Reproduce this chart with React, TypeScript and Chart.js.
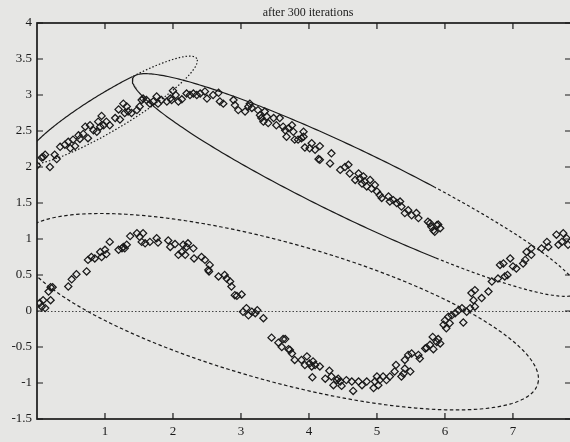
import { useEffect, useRef } from "react";
import { Chart, registerables } from "chart.js";

Chart.register(...registerables);

const TITLE = "after 300 iterations";
const X_MIN = 0;
const X_MAX = 7.854; // 2.5 * pi
const Y_MIN = -1.5;
const Y_MAX = 4;
const xTickValues = [1, 2, 3, 4, 5, 6, 7];
const Y_STEP = 0.5;

const upperPoints: [number, number][] = [
  [0.0, 2.02], [0.19, 2.0], [0.09, 2.14], [0.12, 2.17], [0.07, 2.13], [0.26, 2.17], [0.29, 2.11],
  [0.34, 2.28], [0.41, 2.31], [0.46, 2.35], [0.49, 2.26], [0.53, 2.38], [0.56, 2.29], [0.61, 2.44],
  [0.63, 2.39], [0.68, 2.46], [0.71, 2.56], [0.75, 2.4], [0.78, 2.58], [0.83, 2.51], [0.88, 2.49],
  [0.9, 2.63], [0.93, 2.56], [0.95, 2.71], [0.98, 2.58], [1.02, 2.63], [1.07, 2.58], [1.15, 2.68],
  [1.2, 2.8], [1.22, 2.66], [1.27, 2.88], [1.29, 2.75], [1.32, 2.84], [1.34, 2.77], [1.39, 2.75],
  [1.47, 2.79], [1.51, 2.84], [1.54, 2.93], [1.56, 2.95], [1.61, 2.93], [1.66, 2.88], [1.71, 2.91],
  [1.76, 2.98], [1.78, 2.88], [1.83, 2.93], [1.91, 2.91], [1.96, 2.95], [2.0, 3.06], [2.04, 3.0],
  [1.98, 2.93], [2.08, 2.91], [2.13, 2.94], [2.2, 3.02], [2.25, 3.0], [2.3, 3.02], [2.35, 3.0],
  [2.4, 3.02], [2.47, 3.05], [2.5, 2.95], [2.59, 3.0], [2.67, 3.03], [2.69, 2.91], [2.74, 2.88],
  [2.89, 2.93], [2.91, 2.86], [2.96, 2.79], [3.06, 2.77], [3.11, 2.84], [3.13, 2.88], [3.16, 2.82],
  [3.25, 2.79], [3.28, 2.72], [3.3, 2.68], [3.35, 2.77], [3.38, 2.7], [3.33, 2.63], [3.4, 2.61],
  [3.48, 2.68], [3.52, 2.58], [3.57, 2.68], [3.62, 2.56], [3.65, 2.51], [3.7, 2.54], [3.75, 2.58],
  [3.77, 2.49], [3.67, 2.42], [3.79, 2.38], [3.84, 2.38], [3.92, 2.49], [3.92, 2.42], [3.89, 2.4],
  [3.94, 2.27], [4.01, 2.26], [4.04, 2.33], [4.09, 2.24], [4.16, 2.29], [4.14, 2.11], [4.16, 2.1],
  [4.31, 2.05], [4.33, 2.19], [4.46, 1.96], [4.53, 2.0], [4.58, 2.03], [4.6, 1.91], [4.68, 1.82],
  [4.73, 1.91], [4.75, 1.84], [4.78, 1.77], [4.8, 1.87], [4.82, 1.8], [4.85, 1.73], [4.9, 1.82],
  [4.92, 1.7], [4.97, 1.75], [5.0, 1.66], [5.04, 1.61], [5.07, 1.57], [5.17, 1.59], [5.19, 1.52],
  [5.24, 1.54], [5.29, 1.5], [5.34, 1.52], [5.36, 1.45], [5.41, 1.36], [5.46, 1.4], [5.51, 1.33],
  [5.58, 1.36], [5.61, 1.29], [5.75, 1.24], [5.78, 1.22], [5.8, 1.17], [5.83, 1.12], [5.85, 1.1],
  [5.88, 1.19], [5.93, 1.15], [5.9, 1.2],
];

const lowerPoints: [number, number][] = [
  [0.04, 0.11], [0.09, 0.15], [0.12, 0.04], [0.07, 0.06], [0.17, 0.27], [0.2, 0.33], [0.23, 0.33],
  [0.2, 0.15], [0.46, 0.34], [0.51, 0.44], [0.58, 0.51], [0.73, 0.55], [0.75, 0.71], [0.8, 0.75],
  [0.85, 0.73], [0.93, 0.82], [0.95, 0.75], [1.0, 0.85], [1.02, 0.79], [1.07, 0.96], [1.2, 0.85],
  [1.25, 0.87], [1.27, 0.89], [1.32, 0.92], [1.29, 0.87], [1.37, 1.04], [1.47, 1.08], [1.51, 1.03],
  [1.56, 1.08], [1.54, 0.96], [1.59, 0.94], [1.66, 0.96], [1.76, 1.01], [1.78, 0.95], [1.93, 0.98],
  [1.96, 0.89], [2.03, 0.93], [2.08, 0.78], [2.13, 0.82], [2.15, 0.92], [2.18, 0.78], [2.2, 0.89],
  [2.22, 0.94], [2.3, 0.87], [2.31, 0.73], [2.42, 0.75], [2.47, 0.71], [2.54, 0.64], [2.53, 0.55],
  [2.52, 0.57], [2.67, 0.48], [2.76, 0.5], [2.79, 0.45], [2.84, 0.41], [2.86, 0.34], [2.91, 0.22],
  [2.94, 0.21], [3.01, 0.23], [3.03, -0.01], [3.08, 0.04], [3.11, -0.06], [3.16, -0.01], [3.21, -0.03],
  [3.24, 0.01], [3.33, -0.1], [3.45, -0.37], [3.55, -0.44], [3.6, -0.5], [3.62, -0.39], [3.65, -0.39],
  [3.7, -0.53], [3.72, -0.54], [3.75, -0.59], [3.79, -0.68], [3.89, -0.68], [3.94, -0.75], [3.97, -0.63],
  [4.01, -0.73], [4.04, -0.77], [4.06, -0.7], [4.09, -0.75], [4.16, -0.77], [4.05, -0.92], [4.24, -0.94],
  [4.3, -0.83], [4.33, -0.91], [4.36, -1.03], [4.41, -0.96], [4.43, -0.94], [4.46, -0.98], [4.48, -1.04],
  [4.55, -0.96], [4.63, -0.98], [4.65, -1.11], [4.73, -0.98], [4.78, -1.03], [4.85, -0.98], [4.95, -1.07],
  [4.97, -0.98], [5.0, -0.91], [5.02, -1.03], [5.04, -0.96], [5.09, -0.91], [5.14, -0.96], [5.19, -0.91],
  [5.26, -0.84], [5.28, -0.75], [5.36, -0.91], [5.39, -0.87], [5.41, -0.8], [5.41, -0.68], [5.49, -0.84],
  [5.46, -0.61], [5.51, -0.59], [5.61, -0.61], [5.63, -0.66], [5.71, -0.52], [5.73, -0.51], [5.78, -0.47],
  [5.82, -0.36], [5.83, -0.53], [5.88, -0.43], [5.9, -0.39], [5.93, -0.45], [5.98, -0.19], [6.0, -0.13],
  [6.02, -0.24], [6.05, -0.08], [6.07, -0.17], [6.1, -0.06], [6.15, -0.03], [6.2, 0.01], [6.25, 0.04],
  [6.27, -0.16], [6.32, -0.01], [6.37, 0.04], [6.39, 0.25], [6.44, 0.29], [6.42, 0.15], [6.44, 0.06],
  [6.54, 0.18], [6.64, 0.27], [6.69, 0.41], [6.78, 0.45], [6.81, 0.64], [6.86, 0.66], [6.88, 0.48],
  [6.92, 0.5], [6.96, 0.73], [7.0, 0.62], [7.05, 0.59], [7.15, 0.66], [7.18, 0.71], [7.2, 0.82],
  [7.27, 0.87], [7.27, 0.78], [7.42, 0.87], [7.5, 0.96], [7.52, 0.89], [7.64, 1.06], [7.67, 0.92],
  [7.72, 0.96], [7.74, 1.08], [7.79, 1.01], [7.81, 0.92],
];

// Ellipses (Gaussian contours): centre, semi-axes (x units), rotation in screen degrees
const ellipseCenterX = [1.09, 4.68, 3.55];
const ellipseCenterY = [2.79, 1.75, -0.01];
const ellipseSemiMajor = [1.47, 3.63, 3.96];
const ellipseSemiMinor = [0.28, 0.5, 1.02];
const ellipseAngleDeg = [31, -25.7, -15.5];

const INK = "#1a1a1a";
const PAPER = "#e6e6e4";
const SERIF = "'Liberation Serif', 'DejaVu Serif', serif";
const ASPECT = 68 / 72; // screen px per x-unit / px per y-unit
const N_SEG = 360;

function ellipsePath(i: number) {
  const pts: { x: number; y: number }[] = [];
  const th = (ellipseAngleDeg[i] * Math.PI) / 180;
  const a = ellipseSemiMajor[i];
  const b = ellipseSemiMinor[i];
  for (let k = 0; k <= N_SEG; k++) {
    const t = (2 * Math.PI * k) / N_SEG;
    const u = a * Math.cos(t);
    const v = b * Math.sin(t);
    pts.push({
      x: ellipseCenterX[i] + u * Math.cos(th) - v * Math.sin(th),
      y: ellipseCenterY[i] + (u * Math.sin(th) + v * Math.cos(th)) * ASPECT,
    });
  }
  return pts;
}

const framePlugin = {
  id: "gnuplotFrame",
  beforeDraw(chart: any) {
    const ctx = chart.ctx;
    ctx.save();
    ctx.fillStyle = PAPER;
    ctx.fillRect(0, 0, chart.width, chart.height);
    ctx.restore();
  },
  beforeDatasetsDraw(chart: any) {
    const { ctx, chartArea } = chart;
    const ys = chart.scales.y;
    const y0 = Math.round(ys.getPixelForValue(0)) + 0.5;
    ctx.save();
    ctx.strokeStyle = "#444";
    ctx.lineWidth = 1;
    ctx.setLineDash([1.5, 2]);
    ctx.beginPath();
    ctx.moveTo(chartArea.left, y0);
    ctx.lineTo(chartArea.right, y0);
    ctx.stroke();
    ctx.restore();
  },
  afterDraw(chart: any) {
    const { ctx, chartArea } = chart;
    const { left, right, top, bottom } = chartArea;
    const xs = chart.scales.x;
    const ys = chart.scales.y;
    ctx.save();
    ctx.strokeStyle = INK;
    ctx.lineWidth = 1.7;
    ctx.setLineDash([]);
    ctx.strokeRect(left, top, right - left, bottom - top);
    ctx.lineWidth = 1.2;
    const TL = 6;
    ctx.beginPath();
    for (const t of xs.ticks) {
      const px = xs.getPixelForValue(t.value);
      ctx.moveTo(px, bottom);
      ctx.lineTo(px, bottom - TL);
      ctx.moveTo(px, top);
      ctx.lineTo(px, top + TL);
    }
    for (const t of ys.ticks) {
      const py = ys.getPixelForValue(t.value);
      ctx.moveTo(left, py);
      ctx.lineTo(left + TL, py);
      ctx.moveTo(right, py);
      ctx.lineTo(right - TL, py);
    }
    ctx.stroke();
    ctx.fillStyle = INK;
    ctx.font = `12px ${SERIF}`;
    ctx.textAlign = "center";
    ctx.textBaseline = "middle";
    ctx.fillText(TITLE, 308, 13);
    ctx.restore();
  },
};

export default function App() {
  const ref = useRef<HTMLCanvasElement | null>(null);
  useEffect(() => {
    document.documentElement.style.overflow = "hidden";
    document.body.style.background = PAPER;
    const canvas = ref.current!;
    const pointStyle = {
      showLine: false,
      pointStyle: "rectRot" as const,
      pointRadius: 3.6,
      pointBorderWidth: 1.25,
      pointBorderColor: INK,
      pointBackgroundColor: "rgba(0,0,0,0)",
    };
    const lineBase = {
      showLine: true,
      pointRadius: 0,
      borderColor: INK,
      borderWidth: 1.2,
      fill: false,
      tension: 0,
    };
    const chart = new Chart(canvas, {
      type: "scatter",
      data: {
        datasets: [
          {
            ...lineBase,
            label: "dotted",
            data: ellipsePath(0),
            borderDash: [1.5, 2],
            segment: {
              borderDash: (c: any) =>
                c.p0DataIndex < N_SEG / 2 && c.p0.parsed.x < 1.42 ? [] : undefined,
            },
          },
          {
            ...lineBase,
            label: "solid",
            data: ellipsePath(1),
            borderDash: [],
            segment: {
              borderDash: (c: any) => (c.p0.parsed.x > 5.85 ? [3, 2.5] : undefined),
            },
          },
          {
            ...lineBase,
            label: "dashed",
            data: ellipsePath(2),
            borderDash: [3.5, 2.5],
          },
          {
            ...pointStyle,
            label: "upper",
            data: upperPoints.map(([x, y]) => ({ x, y })),
          },
          {
            ...pointStyle,
            label: "lower",
            data: lowerPoints.map(([x, y]) => ({ x, y })),
          },
        ],
      },
      options: {
        animation: false,
        responsive: false,
        devicePixelRatio: 1,
        layout: { padding: { top: 23, right: 9, left: 0, bottom: 0 } },
        plugins: {
          legend: { display: false },
          title: { display: false },
          tooltip: { enabled: false },
        },
        scales: {
          x: {
            type: "linear",
            min: X_MIN,
            max: X_MAX,
            grid: { display: false, drawTicks: false },
            border: { display: false },
            afterBuildTicks: (scale: any) => {
              scale.ticks = xTickValues.map((v) => ({ value: v }));
            },
            afterFit: (scale: any) => {
              scale.height = 23;
            },
            ticks: {
              padding: 5,
              color: INK,
              font: { family: SERIF, size: 13 },
              maxRotation: 0,
              autoSkip: false,
              callback: (v: any) => String(v),
            },
          },
          y: {
            type: "linear",
            min: Y_MIN,
            max: Y_MAX,
            grid: { display: false, drawTicks: false },
            border: { display: false },
            afterFit: (scale: any) => {
              scale.width = 37;
            },
            ticks: {
              stepSize: Y_STEP,
              padding: 5,
              color: INK,
              font: { family: SERIF, size: 13 },
              autoSkip: false,
              callback: (v: any) => String(v),
            },
          },
        },
      },
      plugins: [framePlugin],
    });
    return () => chart.destroy();
  }, []);
  return (
    <canvas
      ref={ref}
      width={580}
      height={442}
      style={{ position: "absolute", left: 0, top: 0, width: 580, height: 442 }}
    />
  );
}
